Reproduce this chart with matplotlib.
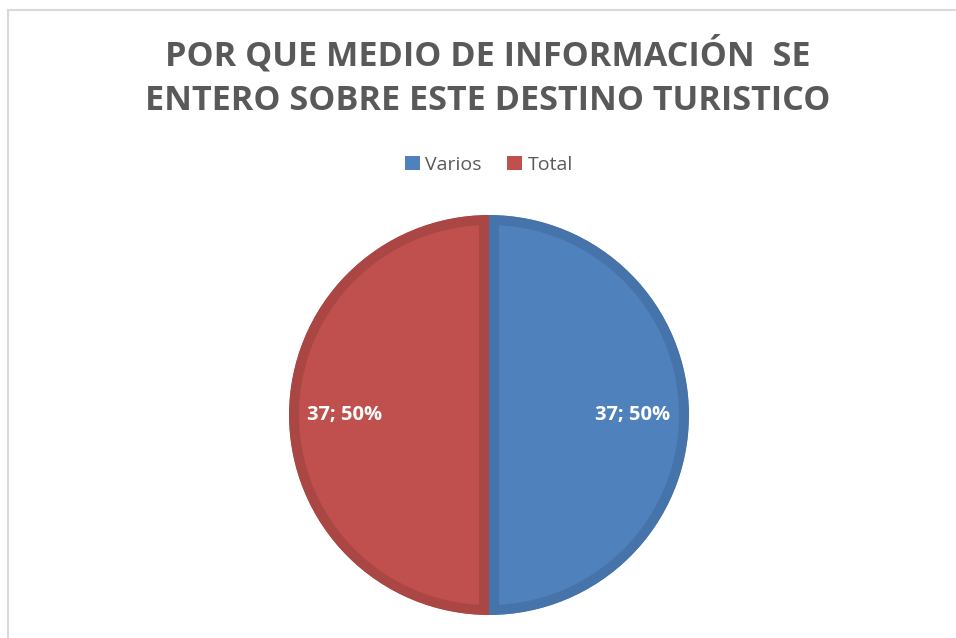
import matplotlib
matplotlib.use("Agg")
import matplotlib.pyplot as plt
from matplotlib.patches import Rectangle

# Data
categories = ["Varios", "Total"]
values = [37, 37]
title_lines = ["POR QUE MEDIO DE INFORMACIÓN  SE", "ENTERO SOBRE ESTE DESTINO TURISTICO"]

fill_colors = ["#4F81BD", "#C0504D"]
edge_colors = ["#4673AA", "#AA4643"]

W, H = 956, 638
DPI = 100
fig = plt.figure(figsize=(W / DPI, H / DPI), dpi=DPI)
fig.patch.set_facecolor("white")

# chart border (extends beyond right/bottom of image)
fig.add_artist(Rectangle((8 / W, -0.05), 1.2, 1 - 10 / H + 0.05,
                         transform=fig.transFigure, fill=False,
                         edgecolor="#D9D9D9", linewidth=1.5))

# Title
for i, line in enumerate(title_lines):
    fig.text(488 / W, 1 - (55 + 45.5 * i) / H, line, ha="center", va="center",
             fontsize=24.6, fontweight="bold", color="#595959",
             family="Open Sans")

# Pie axes: centre (489, 415), radius 200 px
cx, cy, r = 489, 415, 200
ax = fig.add_axes([(cx - r) / W, (H - cy - r) / H, 2 * r / W, 2 * r / H])
total = sum(values)
wedges, texts, autotexts = ax.pie(
    values, colors=fill_colors, startangle=90, counterclock=False,
    radius=1.0, pctdistance=0.72,
    autopct=lambda p: f"{round(p * total / 100):d}; {p:.0f}%",
    textprops=dict(color="white", fontsize=14.5, fontweight="bold",
                   family="Open Sans"))
for w, ec in zip(wedges, edge_colors):
    w.set_edgecolor(ec)
    w.set_linewidth(14.4)
    w.set_clip_path(w)
    w.set_clip_on(True)
ax.set_xlim(-1, 1)
ax.set_ylim(-1, 1)
ax.set_aspect("equal")
ax.axis("off")

# Legend
leg = fig.legend(wedges, categories, loc="center",
                 bbox_to_anchor=(489 / W, 1 - 165 / H), ncol=2, frameon=False,
                 handlelength=0.75, handleheight=0.75, handletextpad=0.3,
                 columnspacing=1.3, prop=dict(family="Open Sans", size=14))
for t in leg.get_texts():
    t.set_color("#595959")
for h in leg.legend_handles:
    h.set_linewidth(0)

fig.savefig("out.png", dpi=DPI)
